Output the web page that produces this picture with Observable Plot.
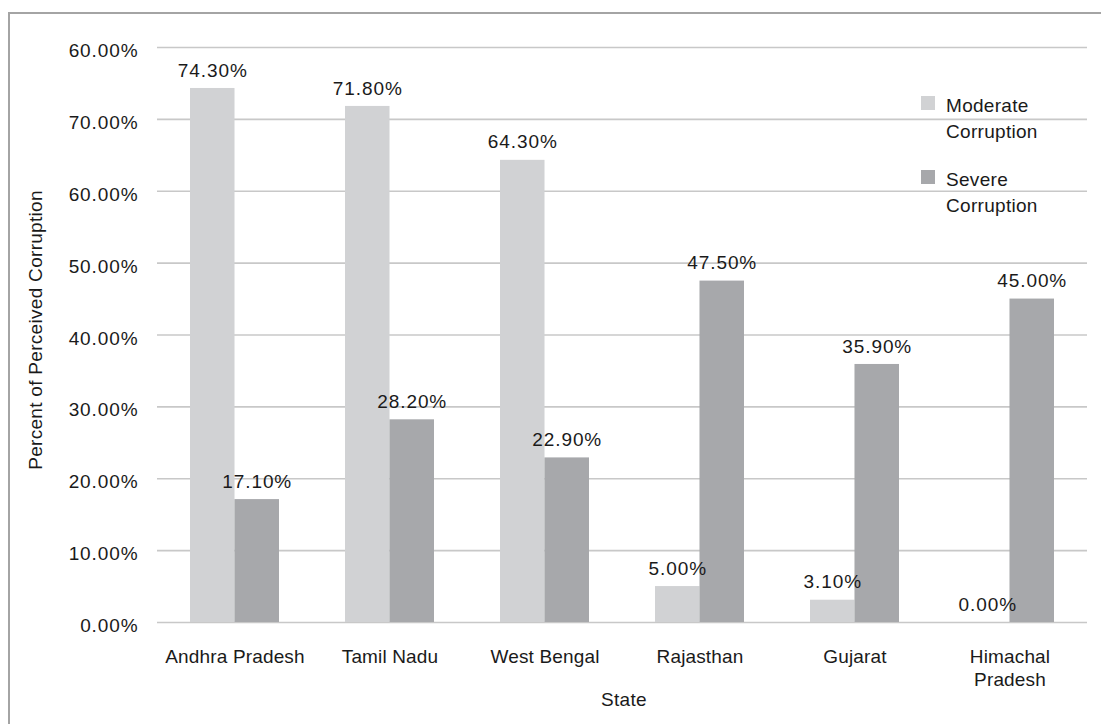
<!DOCTYPE html>
<html>
<head>
<meta charset="utf-8">
<script src="https://cdn.jsdelivr.net/npm/d3@7"></script>
<script src="https://cdn.jsdelivr.net/npm/@observablehq/plot@0.6"></script>
<style>
  html, body { margin: 0; padding: 0; background: #fff; }
  #wrap { position: relative; width: 1101px; height: 724px; overflow: hidden; font-family: "Liberation Sans", Arial, sans-serif; color: #1a1a1a; }
  #wrap svg { position: absolute; left: 0; top: 0; }
  #wrap svg g[aria-label="y-axis tick label"] text,
  #wrap svg g[aria-label="text"] text { letter-spacing: 0.9px; }
  #wrap svg g[aria-label="x-axis tick label"] text { letter-spacing: 0.15px; }
  .border { position: absolute; left: 8px; top: 12px; width: 1200px; height: 900px; border-top: 2px solid #a4a4a4; border-left: 2px solid #a4a4a4; pointer-events: none; }
  .t { position: absolute; font-size: 19px; white-space: nowrap; letter-spacing: 0.3px; }
  .sw { position: absolute; width: 14px; height: 14px; }
</style>
</head>
<body>
<div id="wrap"></div>
<script>
const states = ["Andhra Pradesh", "Tamil Nadu", "West Bengal", "Rajasthan", "Gujarat", "Himachal Pradesh"];
const stateLabels = ["Andhra Pradesh", "Tamil Nadu", "West Bengal", "Rajasthan", "Gujarat", "Himachal\nPradesh"];
const moderate = [0.743, 0.718, 0.643, 0.05, 0.031, 0.0];
const severe = [0.171, 0.282, 0.229, 0.475, 0.359, 0.45];
const seriesNames = ["Moderate\nCorruption", "Severe\nCorruption"];
const yTicks = [0, 0.1, 0.2, 0.3, 0.4, 0.5, 0.6, 0.7, 0.8];
const yTickLabels = ["0.00%", "10.00%", "20.00%", "30.00%", "40.00%", "50.00%", "60.00%", "70.00%", "60.00%"];
const colors = ["#d1d2d4", "#a7a8ab"];

const data = states.map((s, i) => ({state: s, moderate: moderate[i], severe: severe[i]}));
const fmt = d3.format(".2%");

const W = 1101, H = 724;
const ml = 157, mr = 14, mt = 47, mb = 102;
const pInner = 0.426, pOuter = 0.213;
const step = (W - ml - mr) / (states.length - pInner + 2 * pOuter);
const bw = step * (1 - pInner);
const half = bw / 2;
const font = "'Liberation Sans', Arial, sans-serif";

const chart = Plot.plot({
  width: W,
  height: H,
  marginLeft: ml,
  marginRight: mr,
  marginTop: mt,
  marginBottom: mb,
  style: {fontFamily: font, fontSize: "19px", color: "#1a1a1a", background: "transparent", overflow: "visible"},
  x: {type: "band", domain: states, paddingInner: pInner, paddingOuter: pOuter, align: 0.5, label: null},
  y: {domain: [0, 0.8], label: null},
  marks: [
    Plot.ruleY(yTicks, {stroke: "#c8c8c8", strokeWidth: 1.6}),
    Plot.barY(data, {x: "state", y: "moderate", fill: colors[0], insetRight: half}),
    Plot.barY(data, {x: "state", y: "severe", fill: colors[1], insetLeft: half}),
    Plot.text(data, {x: "state", y: "moderate", text: d => fmt(d.moderate), dx: -half / 2, dy: -18, fontSize: 19, fill: "#1a1a1a"}),
    Plot.text(data, {x: "state", y: "severe", text: d => fmt(d.severe), dx: half / 2, dy: -18, fontSize: 19, fill: "#1a1a1a"}),
    Plot.axisY({ticks: yTicks, tickSize: 0, tickPadding: 19, dy: 3.5, fontSize: 19, tickFormat: d => yTickLabels[yTicks.indexOf(d)], label: null}),
    Plot.axisX({tickSize: 0, tickPadding: 24, fontSize: 19, lineHeight: 1.21, tickFormat: d => stateLabels[states.indexOf(d)], label: null})
  ]
});

const wrap = document.getElementById("wrap");
wrap.appendChild(chart);

function addText(txt, left, top, extra) {
  const el = document.createElement("div");
  el.className = "t";
  el.textContent = txt;
  el.style.left = left + "px";
  el.style.top = top + "px";
  if (extra) Object.assign(el.style, extra);
  wrap.appendChild(el);
  return el;
}

// axis titles
addText("Percent of Perceived Corruption", 36, 330, {transform: "translate(-50%, -50%) rotate(-90deg)", lineHeight: "22px"});
addText("State", 624, 700, {transform: "translate(-50%, -50%)", lineHeight: "22px"});

// legend
const legTops = [93, 167];
seriesNames.forEach((name, i) => {
  const sw = document.createElement("div");
  sw.className = "sw";
  sw.style.left = "921px";
  sw.style.top = (legTops[i] + 3) + "px";
  sw.style.background = colors[i];
  wrap.appendChild(sw);
  addText(name, 946, legTops[i], {whiteSpace: "pre", lineHeight: "26px"});
});

const b = document.createElement("div");
b.className = "border";
wrap.appendChild(b);
</script>
</body>
</html>
